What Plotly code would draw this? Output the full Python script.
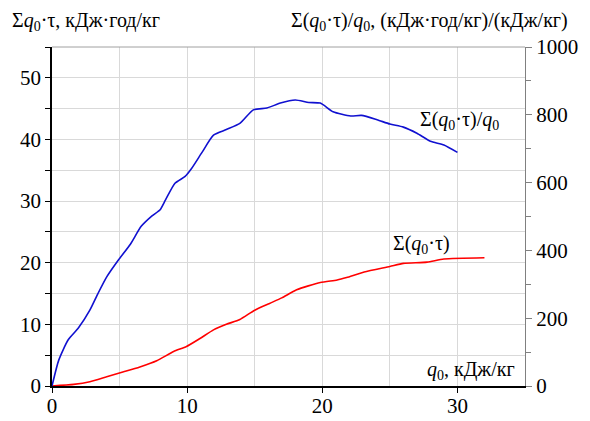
import plotly.graph_objects as go

# Σ(q0·τ)/q0 (right axis), read in left-axis units then scaled
blue_x = [0, 0.5, 1.2, 1.95, 2.8, 3.4, 4.05, 4.9, 5.8, 6.6, 7.4, 8.0, 8.4, 9.1, 9.85, 10.3, 11.1, 11.95,
          12.9, 13.9, 14.9, 15.9, 16.9, 18.0, 19.0, 19.85, 20.8, 22.1, 22.9, 24.05, 25.0, 26.0, 27.0,
          28.0, 29.0, 30.0]
blue_left_units = [0, 4.2, 7.5, 9.4, 12.3, 15.0, 17.7, 20.4, 23.0, 25.9, 27.6, 28.6, 30.2, 32.9, 34.0, 35.2,
                   37.9, 40.7, 41.6, 42.6, 44.8, 45.1, 45.9, 46.4, 46.0, 45.9, 44.5, 43.8, 43.9, 43.2,
                   42.5, 42.0, 41.0, 39.7, 39.1, 37.9]
blue_y = [v * 1000 / 55 for v in blue_left_units]

# Σ(q0·τ) (left axis)
red_x = [0, 1.6, 2.8, 4.05, 5.3, 6.5, 7.75, 9.0, 9.95, 10.95, 11.95, 12.9, 13.9, 15.0, 16.1, 17.0,
         18.1, 19.85, 21.1, 21.8, 23.1, 25.0, 26.0, 27.75, 29.0, 32.0]
red_y = [0, 0.27, 0.7, 1.5, 2.3, 3.1, 4.1, 5.6, 6.4, 7.7, 9.1, 10.0, 10.8, 12.3, 13.4, 14.3,
         15.6, 16.8, 17.2, 17.6, 18.5, 19.4, 19.9, 20.1, 20.6, 20.8]

FONT = "Liberation Serif, DejaVu Serif, serif"

fig = go.Figure()
fig.add_trace(go.Scatter(x=red_x, y=red_y, mode="lines", line=dict(color="#ff0000", width=1.6, shape="spline", smoothing=0.6),
                         yaxis="y", showlegend=False, hoverinfo="skip"))
fig.add_trace(go.Scatter(x=blue_x, y=blue_y, mode="lines", line=dict(color="#1010d0", width=1.6, shape="spline", smoothing=0.6),
                         yaxis="y2", showlegend=False, hoverinfo="skip"))

grid = "#d9d9d9"
fig.update_layout(
    width=590, height=421,
    margin=dict(l=52, r=65, t=47, b=35, autoexpand=False),
    paper_bgcolor="white", plot_bgcolor="white",
    font=dict(family=FONT, size=21, color="black"),
    xaxis=dict(range=[0, 35], dtick=10, tick0=0, showgrid=True, gridcolor=grid, gridwidth=1, automargin=False,
               minor=dict(dtick=5, showgrid=True, gridcolor=grid, ticks=""),
               ticks="outside", ticklen=5, tickcolor="black", showline=True, linecolor="black", linewidth=1.5,
               zeroline=False, tickfont=dict(size=21, family=FONT), ticklabelstandoff=-5),
    yaxis=dict(range=[0, 55], dtick=10, tick0=0, showgrid=True, gridcolor=grid, gridwidth=1, automargin=False,
               minor=dict(dtick=5, showgrid=True, gridcolor=grid, ticks="outside", ticklen=5, tickcolor="black"),
               ticks="outside", ticklen=5, tickcolor="black", showline=True, linecolor="black", linewidth=1.5,
               zeroline=False, tickfont=dict(size=21, family=FONT)),
    yaxis2=dict(range=[0, 1000], dtick=200, tick0=0, overlaying="y", side="right", showgrid=False, automargin=False,
                minor=dict(dtick=100, ticks="outside", ticklen=5, tickcolor="#808080"),
                ticks="outside", ticklen=6, tickcolor="#808080", showline=True, linecolor="#808080", linewidth=1,
                zeroline=False, tickfont=dict(size=21, family=FONT)),
    shapes=[dict(type="line", xref="paper", yref="paper", x0=0, x1=1, y0=1, y1=1,
                 line=dict(color="#a0a0a0", width=1))],
    annotations=[
        dict(text="Σ<i>q</i><sub>0</sub>·τ, кДж·год/кг", xref="paper", yref="paper", x=-42/473, y=1 + 25/339,
             xanchor="left", yanchor="middle", showarrow=False, font=dict(size=20, family=FONT)),
        dict(text="Σ(<i>q</i><sub>0</sub>·τ)/<i>q</i><sub>0</sub>, (кДж·год/кг)/(кДж/кг)", xref="paper", yref="paper",
             x=(570 - 52) / 473, y=1 + 25/339, xanchor="right", yanchor="middle", showarrow=False,
             font=dict(size=20, family=FONT)),
        dict(text="Σ(<i>q</i><sub>0</sub>·τ)/<i>q</i><sub>0</sub>", xref="paper", yref="paper",
             x=(459 - 52) / 473, y=(386 - 121) / 339, xanchor="center", yanchor="middle", showarrow=False,
             font=dict(size=20, family=FONT)),
        dict(text="Σ(<i>q</i><sub>0</sub>·τ)", xref="paper", yref="paper",
             x=(421 - 52) / 473, y=(386 - 244) / 339, xanchor="center", yanchor="middle", showarrow=False,
             font=dict(size=20, family=FONT)),
        dict(text="<i>q</i><sub>0</sub>, кДж/кг", xref="paper", yref="paper",
             x=(517 - 52) / 473, y=(386 - 370) / 339, xanchor="right", yanchor="middle", showarrow=False,
             font=dict(size=20, family=FONT)),
    ],
)

fig.write_html("out.html", config={"displayModeBar": False}, post_script="document.body.style.margin='0';")
